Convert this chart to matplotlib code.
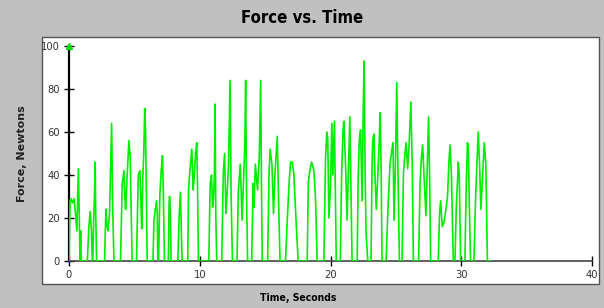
import matplotlib
matplotlib.use('Agg')
import matplotlib.pyplot as plt
from matplotlib.patches import Rectangle

# force trace, one burst per line
time_s = [
    0.0, 0.08, 0.15, 0.25, 0.38, 0.5, 0.6, 0.72, 0.79, 0.84, 0.89, 0.93,
    1.4, 1.52, 1.62, 1.72, 1.78,
    1.82, 1.9, 1.95, 2.0, 2.05, 2.11,
    2.72, 2.82, 2.9, 2.98, 3.1, 3.2, 3.26, 3.34, 3.44,
    3.94, 4.07, 4.2, 4.27, 4.33, 4.45, 4.58, 4.68, 4.83,
    5.16, 5.3, 5.42, 5.5, 5.56, 5.65, 5.72, 5.79, 5.86, 5.98,
    6.42, 6.5, 6.6, 6.69, 6.75, 6.79,
    6.85, 6.95, 7.05, 7.15, 7.22, 7.3,
    7.6, 7.65, 7.69, 7.75, 7.81,
    8.32, 8.42, 8.52, 8.58, 8.65,
    9.08, 9.14, 9.25, 9.39, 9.5, 9.58, 9.68, 9.77, 9.83, 9.9,
    10.69, 10.8, 10.9, 10.98, 11.06, 11.12, 11.17, 11.23, 11.3,
    11.68, 11.8, 11.9, 12.0, 12.1, 12.2, 12.32, 12.4, 12.5,
    12.85, 12.95, 13.1, 13.24, 13.36, 13.45, 13.51, 13.58, 13.66,
    13.97, 14.08, 14.15, 14.25, 14.42, 14.55, 14.66, 14.72, 14.78,
    15.19, 15.3, 15.38, 15.52, 15.64, 15.75, 15.85, 15.93, 16.02, 16.14,
    16.56, 16.7, 16.85, 16.95, 17.08, 17.2, 17.32, 17.42, 17.53,
    18.22, 18.3, 18.42, 18.55, 18.65, 18.73, 18.85, 18.93, 18.98,
    19.49, 19.62, 19.72, 19.79, 19.88, 20.0, 20.1, 20.18, 20.3, 20.44,
    20.75, 20.85, 20.95, 21.02, 21.15, 21.27, 21.38, 21.48, 21.56, 21.65,
    22.04, 22.12, 22.2, 22.3, 22.42, 22.5, 22.57, 22.65, 22.72, 22.85,
    23.1, 23.18, 23.23, 23.32, 23.4, 23.5, 23.62, 23.72, 23.8, 23.88, 23.94,
    24.25, 24.4, 24.55, 24.7, 24.78, 24.86, 24.95, 25.07, 25.15, 25.27,
    25.47, 25.58, 25.7, 25.78, 25.9, 26.02, 26.15, 26.25, 26.34,
    26.74, 26.85, 26.95, 27.05, 27.15, 27.3, 27.4, 27.5, 27.58, 27.66,
    28.24, 28.34, 28.42, 28.55, 28.68, 28.83, 28.95, 29.05, 29.14, 29.25, 29.39,
    29.52, 29.62, 29.72, 29.77, 29.85, 29.95,
    30.28, 30.38, 30.48, 30.55, 30.62, 30.71,
    30.97, 31.1, 31.22, 31.3, 31.4, 31.5, 31.62, 31.76, 31.88, 32.0, 32.2,
]
force_n = [
    0, 28, 29, 27, 29, 22, 14, 43, 20, 0, 14, 0,
    0, 16, 23, 14, 0,
    0, 22, 31, 46, 20, 0,
    0, 24, 17, 14, 22, 48, 64, 25, 0,
    0, 36, 42, 30, 24, 40, 56, 48, 0,
    0, 40, 42, 28, 15, 40, 50, 71, 60, 0,
    0, 19, 24, 28, 22, 0,
    0, 31, 42, 49, 30, 0,
    0, 26, 30, 24, 0,
    0, 20, 32, 18, 0,
    0, 33, 42, 52, 33, 40, 50, 55, 35, 0,
    0, 36, 40, 25, 30, 40, 73, 20, 0,
    0, 41, 50, 22, 32, 45, 84, 30, 0,
    0, 33, 45, 19, 40, 55, 84, 30, 0,
    0, 36, 25, 45, 33, 48, 84, 35, 0,
    0, 41, 52, 45, 22, 40, 50, 58, 30, 0,
    0, 20, 38, 46, 46, 40, 25, 12, 0,
    0, 36, 42, 46, 44, 42, 30, 12, 0,
    0, 48, 60, 57, 20, 35, 64, 40, 65, 0,
    0, 40, 60, 65, 45, 19, 45, 67, 35, 0,
    0, 40, 56, 61, 28, 70, 93, 40, 13, 0,
    0, 45, 56, 59, 40, 24, 40, 55, 69, 40, 0,
    0, 25, 45, 52, 55, 19, 40, 83, 45, 0,
    0, 41, 50, 55, 43, 55, 74, 45, 0,
    0, 36, 48, 54, 40, 21, 45, 67, 40, 0,
    0, 22, 28, 16, 18, 24, 30, 45, 54, 40, 0,
    0, 25, 38, 46, 40, 0,
    0, 35, 55, 50, 25, 0,
    0, 30, 48, 60, 45, 24, 38, 55, 45, 0, 0,
]

x_ticks = [0, 10, 20, 30, 40]
y_ticks = [0, 20, 40, 60, 80, 100]

fig = plt.figure(figsize=(6.04, 3.08), dpi=100)
fig.patch.set_facecolor('#c0c0c0')

# white chart panel, behind the axes
panel = Rectangle((42 / 604, 24 / 308), 557 / 604, 247 / 308, transform=fig.transFigure,
                  facecolor='white', edgecolor='#555555', linewidth=1.0, zorder=-5)
fig.patches.append(panel)

ax = fig.add_axes([69 / 604, 47 / 308, 523 / 604, 215 / 308])
ax.set_facecolor('none')
ax.plot(time_s, force_n, color='#00ee00', linewidth=1.2, zorder=3)
ax.plot([0], [100], marker='^', color='#00dd00', markersize=4, clip_on=False, zorder=4)

ax.set_xlim(0, 40)
ax.set_ylim(0, 100)
ax.set_xticks(x_ticks)
ax.set_yticks(y_ticks)
for s in ['top', 'right']:
    ax.spines[s].set_visible(False)
ax.spines['left'].set_linewidth(1.6)
ax.spines['bottom'].set_linewidth(1.2)
ax.spines['bottom'].set_color('#444444')
ax.tick_params(direction='inout', length=7, width=1, labelsize=8, labelcolor='#333333', pad=3)
for lab in ax.get_xticklabels() + ax.get_yticklabels():
    lab.set_family('DejaVu Sans')
    lab.set_stretch('condensed')
    lab.set_fontsize(8)

fig.text(302 / 604, 0.94, 'Force vs. Time', ha='center', va='center', fontsize=12,
         fontweight='bold', family='DejaVu Sans', fontstretch='condensed')
fig.text(298 / 604, 10 / 308, 'Time, Seconds', ha='center', va='center', fontsize=7.5,
         fontweight='bold', family='DejaVu Sans', fontstretch='condensed')
fig.text(22 / 604, 0.5, 'Force, Newtons', ha='center', va='center', fontsize=8,
         fontweight='bold', rotation=90, color='#222222')

fig.savefig('out.png', dpi=100, facecolor=fig.get_facecolor())
